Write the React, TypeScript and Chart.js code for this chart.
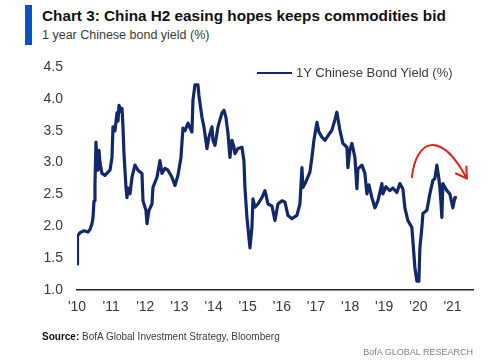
import React, { useEffect, useRef } from "react";
import { Chart, registerables } from "chart.js";

Chart.register(...registerables);

const TITLE = "Chart 3: China H2 easing hopes keeps commodities bid";
const SUBTITLE = "1 year Chinese bond yield (%)";
const SERIES_LABEL = "1Y Chinese Bond Yield (%)";
const SOURCE_LABEL = "Source:";
const SOURCE_TEXT = "BofA Global Investment Strategy, Bloomberg";
const BRAND = "BofA GLOBAL RESEARCH";

const X_MIN = 2010;
const X_MAX = 2021.6;
const Y_MIN = 1.0;
const Y_MAX = 4.5;
const Y_STEP = 0.5;

// Years since 2010 (decimal)
const yearOffsets = [
  0, 0.015, 0.088, 0.205, 0.322, 0.381, 0.439, 0.469, 0.498, 0.527, 0.556, 0.586, 0.615, 0.644, 0.673,
  0.732, 0.82, 0.908, 0.966, 1.025, 1.054, 1.113, 1.171, 1.201, 1.23, 1.288, 1.318, 1.347, 1.376, 1.435,
  1.464, 1.493, 1.552, 1.611, 1.698, 1.786, 1.903, 1.933, 2.02, 2.05, 2.108, 2.196, 2.225, 2.343, 2.43,
  2.489, 2.577, 2.665, 2.782, 2.87, 2.958, 3.045, 3.104, 3.163, 3.25, 3.367, 3.397, 3.455, 3.543, 3.572,
  3.66, 3.719, 3.807, 3.865, 3.953, 3.982, 4.041, 4.129, 4.246, 4.305, 4.363, 4.422, 4.48, 4.539, 4.597,
  4.627, 4.714, 4.832, 4.89, 4.919, 4.978, 5.022, 5.066, 5.124, 5.154, 5.212, 5.3, 5.417, 5.505, 5.534,
  5.593, 5.71, 5.798, 5.886, 6.003, 6.091, 6.179, 6.296, 6.442, 6.53, 6.589, 6.618, 6.706, 6.823, 6.881,
  6.94, 7.028, 7.086, 7.174, 7.262, 7.35, 7.467, 7.555, 7.613, 7.672, 7.701, 7.789, 7.906, 7.936, 7.994,
  8.053, 8.141, 8.199, 8.228, 8.346, 8.433, 8.492, 8.551, 8.638, 8.726, 8.814, 8.931, 8.96, 9.048, 9.165,
  9.253, 9.37, 9.458, 9.546, 9.605, 9.693, 9.81, 9.839, 9.898, 9.956, 10.015, 10.044, 10.102, 10.132, 10.249,
  10.337, 10.425, 10.483, 10.542, 10.6, 10.629, 10.659, 10.688, 10.717, 10.835, 10.922, 11.01, 11.069, 11.127,
];

// 1Y Chinese bond yield (%)
const yields = [
  1.41, 1.85, 1.9, 1.93, 1.91, 1.95, 2.04, 2.14, 2.4, 2.67, 3.32, 2.95, 2.88, 3.19, 3.0,
  2.83, 2.8, 2.85, 2.88, 3.08, 3.56, 3.5, 3.78, 3.65, 3.9, 3.8, 3.85, 3.56, 3.14, 2.61,
  2.45, 2.6, 2.51, 2.77, 2.96, 2.88, 2.83, 2.4, 2.25, 2.04, 2.25, 2.35, 2.61, 2.77, 3.03,
  2.83, 2.91, 2.88, 2.77, 2.64, 2.8, 3.08, 3.54, 3.5, 3.62, 3.48, 3.98, 4.22, 4.22, 4.05,
  3.71, 3.56, 3.22, 3.4, 3.56, 3.35, 3.27, 3.56, 3.78, 3.82, 3.71, 3.46, 3.08, 3.35, 3.25,
  3.14, 3.22, 3.24, 3.03, 2.61, 2.14, 1.9, 1.66, 1.98, 2.43, 2.3, 2.35, 2.45, 2.56, 2.5,
  2.35, 2.32, 2.09, 2.35, 2.4, 2.38, 2.17, 2.12, 2.17, 2.35, 2.92, 2.61, 2.7, 2.85, 3.08,
  3.35, 3.63, 3.48, 3.4, 3.35, 3.42, 3.51, 3.67, 3.79, 3.6, 3.51, 3.3, 3.24, 2.92, 3.2,
  3.3, 3.08, 2.59, 2.9, 2.96, 2.83, 2.51, 2.65, 2.45, 2.29, 2.4, 2.67, 2.51, 2.62, 2.56,
  2.6, 2.53, 2.67, 2.59, 2.29, 2.09, 1.98, 1.77, 1.35, 1.14, 1.14, 1.66, 1.98, 2.2, 2.25,
  2.51, 2.72, 2.75, 2.96, 2.75, 2.61, 2.4, 2.14, 2.67, 2.56, 2.51, 2.29, 2.45, 2.45,
];

// Red annotation arrow: cubic curve in data coordinates (start, ctrl1, ctrl2, end)
const arrowYears = [2019.81, 2019.93, 2020.63, 2021.42];
const arrowValues = [2.77, 3.35, 3.54, 2.75];

const LINE_COLOR = "#13286b";
const ARROW_COLOR = "#e3211c";
const TEXT_COLOR = "#3a3a3a";
const FONT = "'Liberation Sans', Arial, sans-serif";
const NARROW = "'Liberation Sans Narrow', 'Liberation Sans', Arial, sans-serif";

const arrowPlugin = {
  id: "arrowPlugin",
  afterDatasetsDraw(chart: any) {
    const { ctx, scales } = chart;
    const xs = arrowYears.map((v) => scales.x.getPixelForValue(v));
    const ys = arrowValues.map((v) => scales.y.getPixelForValue(v));
    ctx.save();
    ctx.strokeStyle = ARROW_COLOR;
    ctx.lineWidth = 2;
    ctx.lineCap = "round";
    ctx.lineJoin = "round";
    ctx.beginPath();
    ctx.moveTo(xs[0], ys[0]);
    ctx.bezierCurveTo(xs[1], ys[1], xs[2], ys[2], xs[3], ys[3]);
    ctx.stroke();
    const ang = Math.atan2(ys[3] - ys[2], xs[3] - xs[2]);
    const len = 12;
    ctx.beginPath();
    ctx.moveTo(xs[3] + len * Math.cos(ang + Math.PI - 0.65), ys[3] + len * Math.sin(ang + Math.PI - 0.65));
    ctx.lineTo(xs[3], ys[3]);
    ctx.lineTo(xs[3] + len * Math.cos(ang + Math.PI + 0.45), ys[3] + len * Math.sin(ang + Math.PI + 0.45));
    ctx.stroke();
    ctx.restore();
  },
};

export default function App() {
  const canvasRef = useRef<HTMLCanvasElement | null>(null);

  useEffect(() => {
    if (!canvasRef.current) return;
    const points = yearOffsets.map((o, i) => ({ x: X_MIN + o, y: yields[i] }));
    const chart = new Chart(canvasRef.current, {
      type: "line",
      data: {
        datasets: [
          {
            label: SERIES_LABEL,
            data: points,
            borderColor: LINE_COLOR,
            borderWidth: 3.2,
            pointRadius: 0,
            tension: 0,
            borderJoinStyle: "round",
          },
        ],
      },
      options: {
        animation: false,
        responsive: false,
        devicePixelRatio: 1,
        layout: { padding: { left: 0, top: 67, right: 27, bottom: 0 } },
        plugins: { legend: { display: false }, tooltip: { enabled: false } },
        scales: {
          x: {
            type: "linear",
            min: X_MIN,
            max: X_MAX,
            afterFit: (s: any) => {
              s.height = 72;
            },
            grid: { display: true, color: "rgba(0,0,0,0)", drawTicks: false },
            border: { display: true, color: "#1c2233", width: 1.5 },
            ticks: {
              stepSize: 1,
              includeBounds: false,
              padding: 9,
              color: TEXT_COLOR,
              font: { family: FONT, size: 14 },
              callback: (v: any) => "'" + String(Math.round(Number(v))).slice(2),
            },
          },
          y: {
            min: Y_MIN,
            max: Y_MAX,
            afterFit: (s: any) => {
              s.width = 77;
            },
            grid: { display: false, drawTicks: false },
            border: { display: false },
            ticks: {
              stepSize: Y_STEP,
              padding: 14,
              color: TEXT_COLOR,
              font: { family: FONT, size: 14 },
              callback: (v: any) => Number(v).toFixed(1),
            },
          },
        },
      },
      plugins: [arrowPlugin],
    });
    return () => chart.destroy();
  }, []);

  return (
    <div style={{ position: "fixed", left: 0, top: 0, width: 500, height: 362, background: "#fff", overflow: "hidden" }}>
      <div style={{ position: "absolute", left: 25, top: 5, width: 7, height: 40, background: "#0a50c8" }} />
      <div
        style={{
          position: "absolute",
          left: 42,
          top: 6,
          fontFamily: NARROW,
          fontWeight: "bold",
          fontSize: 15.3,
          color: "#111",
          whiteSpace: "nowrap",
          lineHeight: "20px",
        }}
      >
        {TITLE}
      </div>
      <div
        style={{
          position: "absolute",
          left: 42,
          top: 27,
          fontFamily: FONT,
          fontSize: 12.5,
          color: TEXT_COLOR,
          whiteSpace: "nowrap",
          lineHeight: "16px",
        }}
      >
        {SUBTITLE}
      </div>
      <canvas ref={canvasRef} width={500} height={362} style={{ position: "absolute", left: 0, top: 0, width: 500, height: 362 }} />
      <div style={{ position: "absolute", left: 257, top: 72, width: 35, height: 2, background: LINE_COLOR }} />
      <div
        style={{
          position: "absolute",
          left: 296,
          top: 64,
          fontFamily: FONT,
          fontSize: 13,
          color: TEXT_COLOR,
          whiteSpace: "nowrap",
          lineHeight: "18px",
        }}
      >
        {SERIES_LABEL}
      </div>
      <div
        style={{
          position: "absolute",
          left: 42,
          top: 330,
          fontFamily: FONT,
          fontSize: 10,
          color: TEXT_COLOR,
          whiteSpace: "nowrap",
          lineHeight: "13px",
        }}
      >
        <span style={{ fontFamily: NARROW, fontWeight: "bold", color: "#111" }}>{SOURCE_LABEL}</span>
        <span>{"  " + SOURCE_TEXT}</span>
      </div>
      <div
        style={{
          position: "absolute",
          right: 27,
          top: 346,
          fontFamily: FONT,
          fontSize: 9,
          color: "#808080",
          whiteSpace: "nowrap",
          lineHeight: "12px",
        }}
      >
        {BRAND}
      </div>
    </div>
  );
}
